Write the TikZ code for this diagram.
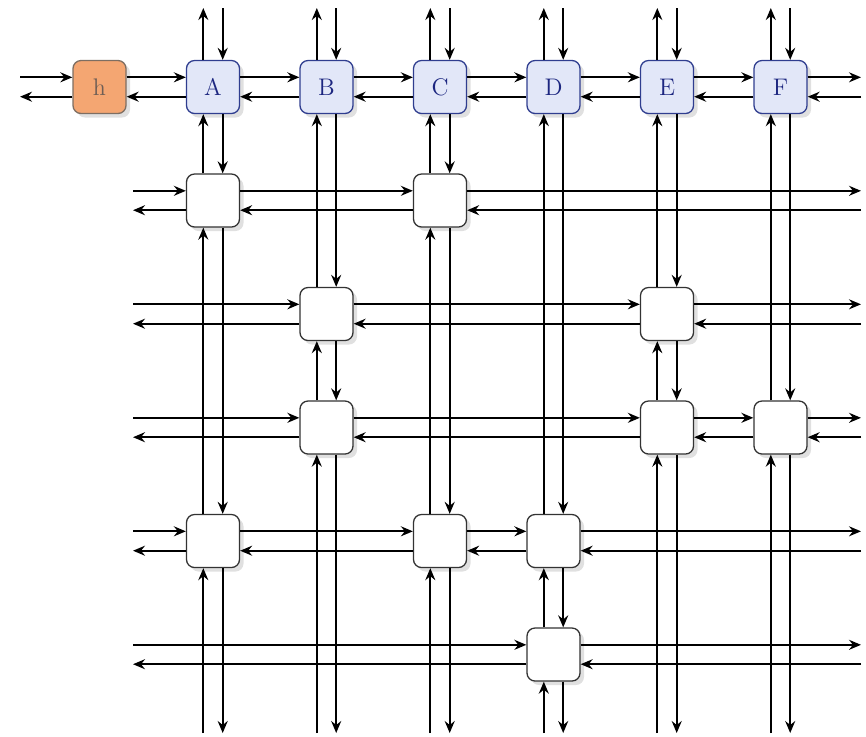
\documentclass[tikz,border=0pt]{standalone}
\usetikzlibrary{arrows.meta,shadows}

\definecolor{hfill}{HTML}{F4A672}
\definecolor{hdraw}{HTML}{7D6E62}
\definecolor{htext}{HTML}{6E5E55}
\definecolor{pefill}{HTML}{E2E7F8}
\definecolor{pedraw}{HTML}{2F3D8F}
\definecolor{petext}{HTML}{1C2680}

\tikzset{
  cell/.style={draw=black!80, fill=white, line width=0.65pt, rounded corners=4pt,
    minimum width=26.5pt, minimum height=26.5pt, inner sep=0pt,
    drop shadow={shadow xshift=2pt, shadow yshift=-2pt, fill=black!12, opacity=1},
    font=\large},
  hostcell/.style={cell, fill=hfill, draw=hdraw, text=htext},
  pecell/.style={cell, fill=pefill, draw=pedraw, text=petext},
  wire/.style={line width=0.85pt, -{Stealth[length=6pt,width=5pt,inset=2pt]}},
}

% two opposite wires: upper one runs left to right, lower one right to left
\newcommand\hpair[2]{%
  \draw[wire] ([yshift=\wireoff]#1) -- ([yshift=\wireoff]#2);
  \draw[wire] ([yshift=-\wireoff]#2) -- ([yshift=-\wireoff]#1);}
% two opposite wires: left one runs upward, right one downward
\newcommand\vpair[2]{%
  \draw[wire] ([xshift=-\wireoff]#2) -- ([xshift=-\wireoff]#1);
  \draw[wire] ([xshift=\wireoff]#1) -- ([xshift=\wireoff]#2);}
\newcommand\wireoff{4.85pt}

\begin{document}
\begin{tikzpicture}[x=0.5pt, y=-0.5pt]
\useasboundingbox (0,0) rectangle (866,736);

% top row: host and processing elements
\node[hostcell] (h) at (99.5,87) {h};
\node[pecell] (A) at (213,87) {A};
\node[pecell] (B) at (326.5,87) {B};
\node[pecell] (C) at (440,87) {C};
\node[pecell] (D) at (553.5,87) {D};
\node[pecell] (E) at (667,87) {E};
\node[pecell] (F) at (780.5,87) {F};

% switch cells
\node[cell] (a1) at (213,200.5) {};
\node[cell] (c1) at (440,200.5) {};
\node[cell] (b2) at (326.5,314) {};
\node[cell] (e2) at (667,314) {};
\node[cell] (b3) at (326.5,427.5) {};
\node[cell] (e3) at (667,427.5) {};
\node[cell] (f3) at (780.5,427.5) {};
\node[cell] (a4) at (213,541) {};
\node[cell] (c4) at (440,541) {};
\node[cell] (d4) at (553.5,541) {};
\node[cell] (d5) at (553.5,654.5) {};

% open ends of the wires
\coordinate (L0) at (20,87);
\coordinate (L1) at (133,200.5);
\coordinate (L2) at (133,314);
\coordinate (L3) at (133,427.5);
\coordinate (L4) at (133,541);
\coordinate (L5) at (133,654.5);
\coordinate (R0) at (861,87);
\coordinate (R1) at (861,200.5);
\coordinate (R2) at (861,314);
\coordinate (R3) at (861,427.5);
\coordinate (R4) at (861,541);
\coordinate (R5) at (861,654.5);
\coordinate (TA) at (213,8);
\coordinate (TB) at (326.5,8);
\coordinate (TC) at (440,8);
\coordinate (TD) at (553.5,8);
\coordinate (TE) at (667,8);
\coordinate (TF) at (780.5,8);
\coordinate (BA) at (213,733);
\coordinate (BB) at (326.5,733);
\coordinate (BC) at (440,733);
\coordinate (BD) at (553.5,733);
\coordinate (BE) at (667,733);
\coordinate (BF) at (780.5,733);

% horizontal links
\hpair{L0}{h.west}
\hpair{h.east}{A.west}
\hpair{A.east}{B.west}
\hpair{B.east}{C.west}
\hpair{C.east}{D.west}
\hpair{D.east}{E.west}
\hpair{E.east}{F.west}
\hpair{F.east}{R0}

\hpair{L1}{a1.west}
\hpair{a1.east}{c1.west}
\hpair{c1.east}{R1}

\hpair{L2}{b2.west}
\hpair{b2.east}{e2.west}
\hpair{e2.east}{R2}

\hpair{L3}{b3.west}
\hpair{b3.east}{e3.west}
\hpair{e3.east}{f3.west}
\hpair{f3.east}{R3}

\hpair{L4}{a4.west}
\hpair{a4.east}{c4.west}
\hpair{c4.east}{d4.west}
\hpair{d4.east}{R4}

\hpair{L5}{d5.west}
\hpair{d5.east}{R5}

% vertical links
\vpair{TA}{A.north}
\vpair{A.south}{a1.north}
\vpair{a1.south}{a4.north}
\vpair{a4.south}{BA}

\vpair{TB}{B.north}
\vpair{B.south}{b2.north}
\vpair{b2.south}{b3.north}
\vpair{b3.south}{BB}

\vpair{TC}{C.north}
\vpair{C.south}{c1.north}
\vpair{c1.south}{c4.north}
\vpair{c4.south}{BC}

\vpair{TD}{D.north}
\vpair{D.south}{d4.north}
\vpair{d4.south}{d5.north}
\vpair{d5.south}{BD}

\vpair{TE}{E.north}
\vpair{E.south}{e2.north}
\vpair{e2.south}{e3.north}
\vpair{e3.south}{BE}

\vpair{TF}{F.north}
\vpair{F.south}{f3.north}
\vpair{f3.south}{BF}
\end{tikzpicture}
\end{document}
